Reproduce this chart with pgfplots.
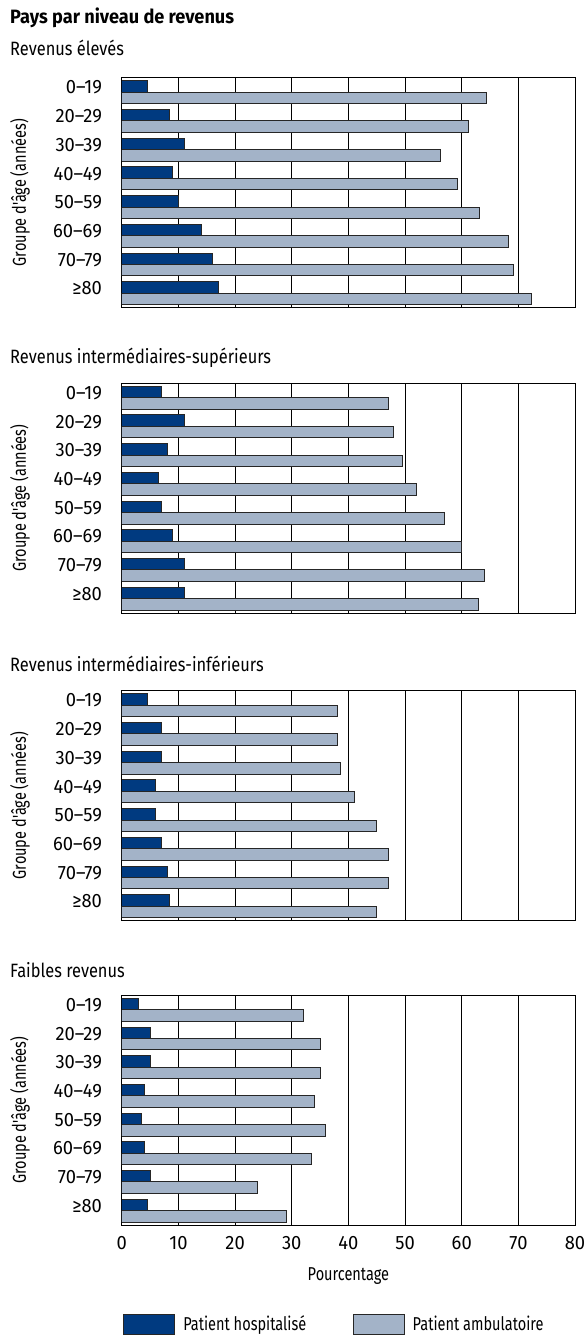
\documentclass[border=0pt]{standalone}
\usepackage{fontspec}
\setmainfont{Fira Sans}[FakeStretch=0.85]
\newfontfamily\narrowfont{Fira Sans}[FakeStretch=0.78]
\newfontfamily\tickfont{Fira Sans}[FakeStretch=0.95]
\newfontfamily\titlefont{Fira Sans}[FakeStretch=0.94]
\usepackage{pgfplots}
\usepackage{pgfplotstable}
\pgfplotsset{compat=1.18}

\definecolor{hosp}{RGB}{0,58,128}
\definecolor{ambu}{RGB}{163,179,200}

% y: 7 = 0-19 ... 0 = >=80
\pgfplotstableread{
y hosp amb
7 4.5 64.3
6 8.5 61.2
5 11.0 56.2
4 9.0 59.2
3 10.0 63.2
2 14.0 68.3
1 16.0 69.2
0 17.0 72.3
}\eleves
\pgfplotstableread{
y hosp amb
7 7.0 47.0
6 11.0 48.0
5 8.0 49.5
4 6.5 52.0
3 7.0 57.0
2 9.0 60.0
1 11.0 64.1
0 11.0 63.0
}\intsup
\pgfplotstableread{
y hosp amb
7 4.5 38.0
6 7.0 38.0
5 7.0 38.6
4 6.0 41.0
3 6.0 45.0
2 7.0 47.1
1 8.0 47.1
0 8.5 45.0
}\intinf
\pgfplotstableread{
y hosp amb
7 3.0 32.0
6 5.0 35.0
5 5.0 35.0
4 4.0 34.0
3 3.5 36.0
2 4.0 33.5
1 5.0 24.0
0 4.5 29.0
}\faibles

\pgfplotsset{
  panel/.style={
    width=340.5pt, height=172.5pt, scale only axis,
    anchor=north west,
    xmin=0, xmax=80, xtick={0,10,...,80},
    ymin=-0.5, ymax=7.5, ytick={0,...,7},
    yticklabels={≥80,70–79,60–69,50–59,40–49,30–39,20–29,0–19},
    xticklabels={},
    xmajorgrids,
    major grid style={black, line width=0.75pt},
    tick style={draw=none},
    axis line style={black, line width=0.75pt},
    xbar, bar width=8.6pt,
    ylabel={Groupe d'âge (années)},
    ylabel style={at={(axis description cs:-0.2247,0.5)}, anchor=center,
      font=\narrowfont\fontsize{14pt}{16pt}\selectfont},
    ticklabel style={font=\tickfont\fontsize{14.5pt}{16pt}\selectfont},
    yticklabel style={anchor=east, inner sep=0pt, xshift=-10.5pt, yshift=3.5pt},
    /pgf/number format/assume math mode=true,
  },
  hospbar/.style={fill=hosp, draw=black!85, line width=0.75pt, bar shift=4.3pt},
  ambubar/.style={fill=ambu, draw=black!85, line width=0.75pt, bar shift=-4.3pt},
}

\begin{document}
\fontsize{14.5pt}{16pt}\selectfont
\begin{tikzpicture}
\path (-91.5pt,58.5pt) rectangle (344.25pt,-945pt);

\begin{axis}[panel, at={(0pt,0pt)}]
  \addplot[hospbar] table[x=hosp, y=y] {\eleves};
  \addplot[ambubar] table[x=amb, y=y] {\eleves};
\end{axis}

\begin{axis}[panel, at={(0pt,-229.5pt)}]
  \addplot[hospbar] table[x=hosp, y=y] {\intsup};
  \addplot[ambubar] table[x=amb, y=y] {\intsup};
\end{axis}

\begin{axis}[panel, at={(0pt,-460.5pt)}]
  \addplot[hospbar] table[x=hosp, y=y] {\intinf};
  \addplot[ambubar] table[x=amb, y=y] {\intinf};
\end{axis}

\begin{axis}[panel, at={(0pt,-689.25pt)},
    xticklabels={0,10,20,30,40,50,60,70,80},
    xticklabel style={anchor=north, inner sep=0pt, yshift=-8pt},
    xlabel={Pourcentage},
    xlabel style={at={(axis description cs:0.5,0)}, anchor=center, yshift=-38.25pt,
      font=\narrowfont\fontsize{14pt}{16pt}\selectfont},
    legend columns=2,
    legend style={at={(axis description cs:0,0)}, anchor=west,
      xshift=-2pt, yshift=-75pt, draw=none, fill=none,
      font=\narrowfont\fontsize{14pt}{16pt}\selectfont,
      nodes={inner sep=0pt, anchor=west},
      /tikz/every odd column/.style={column sep=6pt},
      /tikz/every even column/.style={column sep=35pt}},
    legend image code/.code={\draw[#1] (0pt,-7.5pt) rectangle (38.25pt,7.5pt);},
  ]
  \addplot[hospbar] table[x=hosp, y=y] {\faibles};
  \addplot[ambubar] table[x=amb, y=y] {\faibles};
  \legend{Patient hospitalisé, Patient ambulatoire}
\end{axis}

\node[anchor=west, inner sep=0pt, font=\titlefont\bfseries] at (-84pt,45pt) {Pays par niveau de revenus};
\node[anchor=west, inner sep=0pt] at (-84pt,22.5pt) {Revenus élevés};
\node[anchor=west, inner sep=0pt] at (-84pt,-210pt) {Revenus intermédiaires-supérieurs};
\node[anchor=west, inner sep=0pt] at (-84pt,-440.25pt) {Revenus intermédiaires-inférieurs};
\node[anchor=west, inner sep=0pt] at (-84pt,-670.5pt) {Faibles revenus};
\end{tikzpicture}
\end{document}
